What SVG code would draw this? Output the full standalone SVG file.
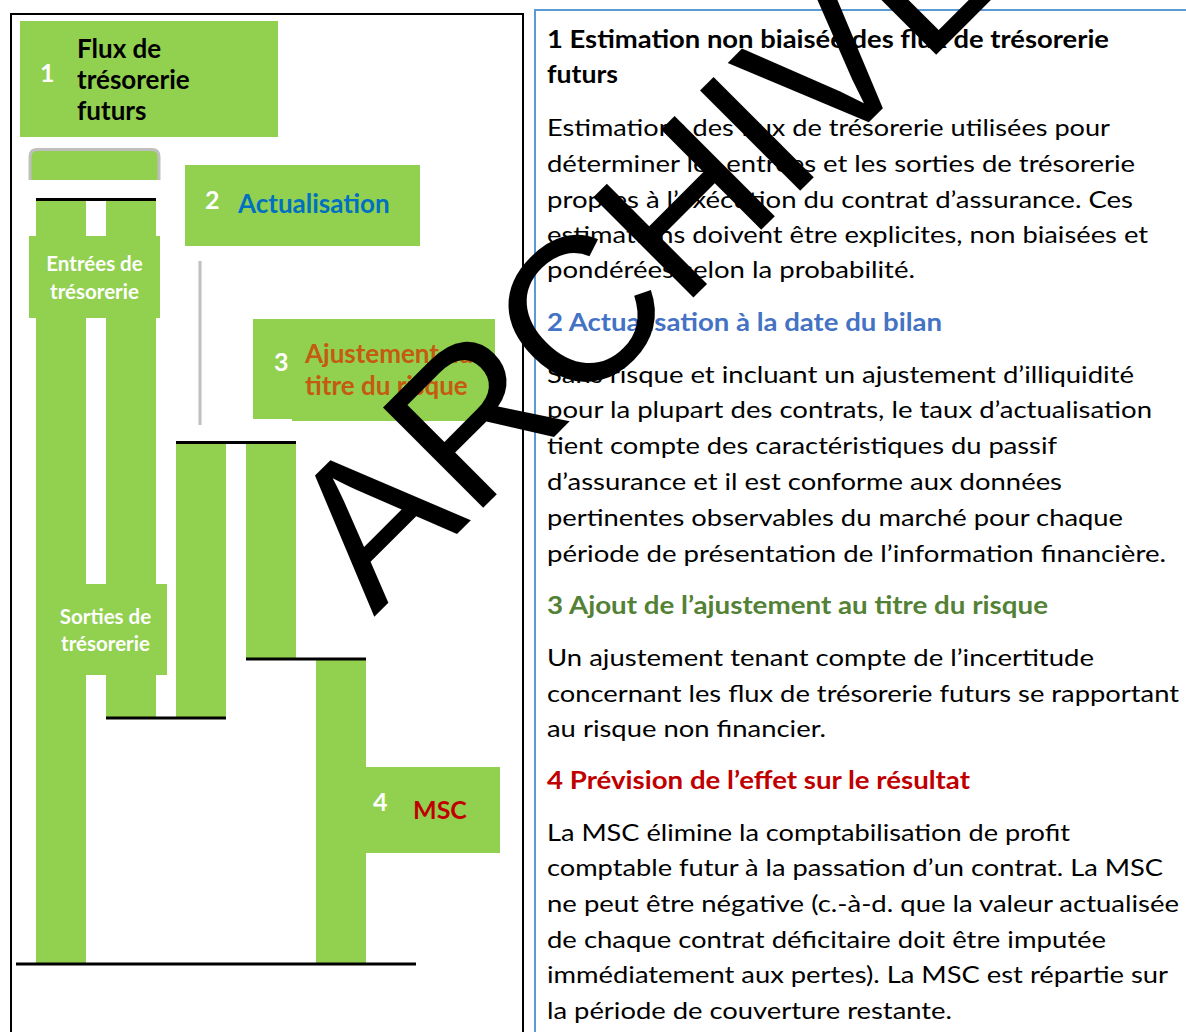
<svg xmlns="http://www.w3.org/2000/svg" width="1186" height="1032" viewBox="0 0 1186 1032">
<style>
.g{fill:#92D050}
.bar{stroke:#000;stroke-width:3;fill:none}
.num{font-family:Lato,"Noto Sans",sans-serif;font-weight:bold;fill:#fff;font-size:25px}
.lbl{font-family:Lato,"Noto Sans",sans-serif;font-weight:bold;font-size:26px}
.wl{font-family:Lato,"Noto Sans",sans-serif;font-weight:bold;fill:#fff;font-size:20.5px;text-anchor:middle}
.h{font-family:Lato,"Noto Sans",sans-serif;font-weight:bold;font-size:24px}
.b{font-family:Lato,"Noto Sans",sans-serif;font-size:24px;fill:#000}
.wm{font-family:"Liberation Sans",Arial,sans-serif;font-size:206px;fill:#000}
</style>
<rect width="1186" height="1032" fill="#fff"/>
<!-- frames -->
<rect x="11" y="14" width="512" height="1030" fill="none" stroke="#000" stroke-width="2"/>
<rect x="535" y="10" width="660" height="1030" fill="none" stroke="#5B9BD5" stroke-width="2"/>

<g id="columns">
<rect class="g" x="36" y="201" width="50" height="762"/>
<rect class="g" x="106" y="201" width="50" height="516"/>
<rect class="g" x="176" y="444" width="50" height="273"/>
<rect class="g" x="246" y="444" width="50" height="214"/>
<rect class="g" x="316" y="660" width="50" height="303"/>
</g>

<g id="node-1">
<rect class="g" x="20" y="21" width="258" height="116"/>
<text class="num" x="40" y="82">1</text>
<text class="lbl" x="77" y="58">Flux de</text>
<text class="lbl" x="77" y="89">trésorerie</text>
<text class="lbl" x="77" y="120">futurs</text>
</g>

<g id="cap">
<path d="M30,180 L30,157 Q30,149.5 37,149.5 L152,149.5 Q159,149.5 159,157 L159,180" class="g" stroke="#BFBFBF" stroke-width="3"/>
</g>

<g id="node-entrees">
<rect class="g" x="29" y="236" width="131" height="82"/>
<text class="wl" x="94.5" y="271">Entrées de</text>
<text class="wl" x="94.5" y="299">trésorerie</text>
</g>

<g id="node-2">
<rect class="g" x="185" y="165" width="235" height="81"/>
<text class="num" x="205" y="209">2</text>
<text class="lbl" x="238" y="213" fill="#0070C0">Actualisation</text>
</g>

<g id="node-3">
<rect class="g" x="253" y="319" width="242" height="100"/>
<rect class="g" x="292" y="417" width="203" height="4"/>
<text class="num" x="274" y="371">3</text>
<text class="lbl" x="305" y="363" fill="#C55A11">Ajustement au</text>
<text class="lbl" x="305" y="395" fill="#C55A11">titre du risque</text>
</g>

<g id="node-sorties">
<rect class="g" x="44" y="584" width="123" height="91"/>
<text class="wl" x="105.5" y="624">Sorties de</text>
<text class="wl" x="105.5" y="651">trésorerie</text>
</g>

<g id="node-4">
<rect class="g" x="366" y="767" width="134" height="86"/>
<text class="num" x="373" y="811">4</text>
<text class="lbl" x="413" y="819" fill="#C00000" style="font-size:25px">MSC</text>
</g>

<g id="connectors">
<line class="bar" x1="36" y1="199.5" x2="156" y2="199.5"/>
<line class="bar" x1="176" y1="442.5" x2="296" y2="442.5"/>
<line class="bar" x1="246" y1="659" x2="366" y2="659"/>
<line class="bar" x1="106" y1="718" x2="226" y2="718"/>
<line class="bar" x1="16" y1="964" x2="416" y2="964"/>
<line x1="200" y1="261" x2="200" y2="425" stroke="#BFBFBF" stroke-width="3"/>
</g>

<g id="description">
<text class="h" x="547" y="48" textLength="562" lengthAdjust="spacingAndGlyphs">1 Estimation non biaisée des flux de trésorerie</text>
<text class="h" x="547" y="83" textLength="71" lengthAdjust="spacingAndGlyphs">futurs</text>
<text class="b" x="547" y="136" textLength="563" lengthAdjust="spacingAndGlyphs">Estimations des flux de trésorerie utilisées pour</text>
<text class="b" x="547" y="172" textLength="588" lengthAdjust="spacingAndGlyphs">déterminer les entrées et les sorties de trésorerie</text>
<text class="b" x="547" y="208" textLength="586" lengthAdjust="spacingAndGlyphs">propres à l’exécution du contrat d’assurance. Ces</text>
<text class="b" x="547" y="243" textLength="601" lengthAdjust="spacingAndGlyphs">estimations doivent être explicites, non biaisées et</text>
<text class="b" x="547" y="278" textLength="368" lengthAdjust="spacingAndGlyphs">pondérées selon la probabilité.</text>

<text class="h" x="547" y="331" fill="#4472C4" textLength="395" lengthAdjust="spacingAndGlyphs">2 Actualisation à la date du bilan</text>
<text class="b" x="547" y="383" textLength="587" lengthAdjust="spacingAndGlyphs">Sans risque et incluant un ajustement d’illiquidité</text>
<text class="b" x="547" y="418" textLength="605" lengthAdjust="spacingAndGlyphs">pour la plupart des contrats, le taux d’actualisation</text>
<text class="b" x="547" y="454" textLength="510" lengthAdjust="spacingAndGlyphs">tient compte des caractéristiques du passif</text>
<text class="b" x="547" y="490" textLength="515" lengthAdjust="spacingAndGlyphs">d’assurance et il est conforme aux données</text>
<text class="b" x="547" y="526" textLength="576" lengthAdjust="spacingAndGlyphs">pertinentes observables du marché pour chaque</text>
<text class="b" x="547" y="562" textLength="619" lengthAdjust="spacingAndGlyphs">période de présentation de l’information financière.</text>

<text class="h" x="547" y="614" fill="#538135" textLength="501" lengthAdjust="spacingAndGlyphs">3 Ajout de l’ajustement au titre du risque</text>
<text class="b" x="547" y="666" textLength="547" lengthAdjust="spacingAndGlyphs">Un ajustement tenant compte de l’incertitude</text>
<text class="b" x="547" y="702" textLength="632" lengthAdjust="spacingAndGlyphs">concernant les flux de trésorerie futurs se rapportant</text>
<text class="b" x="547" y="737" textLength="279" lengthAdjust="spacingAndGlyphs">au risque non financier.</text>

<text class="h" x="547" y="789" fill="#C00000" textLength="423" lengthAdjust="spacingAndGlyphs">4 Prévision de l’effet sur le résultat</text>
<text class="b" x="547" y="841" textLength="523" lengthAdjust="spacingAndGlyphs">La MSC élimine la comptabilisation de profit</text>
<text class="b" x="547" y="876" textLength="616" lengthAdjust="spacingAndGlyphs">comptable futur à la passation d’un contrat. La MSC</text>
<text class="b" x="547" y="912" textLength="632" lengthAdjust="spacingAndGlyphs">ne peut être négative (c.-à-d. que la valeur actualisée</text>
<text class="b" x="547" y="948" textLength="559" lengthAdjust="spacingAndGlyphs">de chaque contrat déficitaire doit être imputée</text>
<text class="b" x="547" y="983" textLength="621" lengthAdjust="spacingAndGlyphs">immédiatement aux pertes). La MSC est répartie sur</text>
<text class="b" x="547" y="1019" textLength="405" lengthAdjust="spacingAndGlyphs">la période de couverture restante.</text>
</g>

<g id="watermark">
<text class="wm" transform="translate(374,617) rotate(-45)">ARCHIVE</text>
</g>
</svg>
